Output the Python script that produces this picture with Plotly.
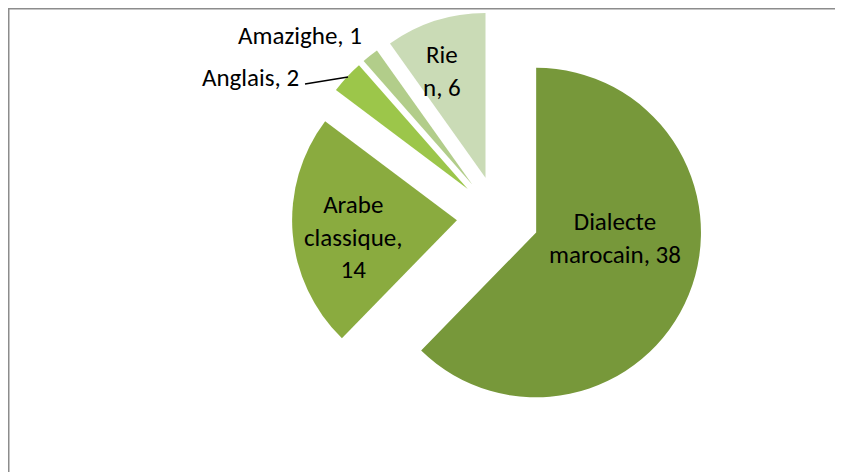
import plotly.graph_objects as go

# data
labels = ["Dialecte marocain", "Arabe classique", "Anglais", "Amazighe", "Rien"]
values = [38, 14, 2, 1, 6]
# label text as wrapped in the original chart
label_lines = ["Dialecte<br>marocain", "Arabe<br>classique,<br>", "Anglais", "Amazighe", "Rie<br>n"]
colors = ["#77983a", "#8aab3f", "#9cc64a", "#b2cd8a", "#cadbb6"]

# page body has an 8px margin, the figure starts at (8, 8) in the window
OFF = 8
W, H = 843 - OFF, 472 - OFF
FONT = "Carlito, Lato, sans-serif"


def px_x(x):
    return (x - OFF) / W


def px_y(y):
    return 1 - (y - OFF) / H


fig = go.Figure()

fig.add_trace(
    go.Pie(
        labels=labels,
        values=values,
        sort=False,
        direction="clockwise",
        rotation=0,
        pull=[0.25] * len(values),
        marker=dict(colors=colors, line=dict(width=0)),
        textinfo="none",
        hoverinfo="label+value",
        showlegend=False,
        domain=dict(x=[px_x(292), px_x(704)], y=[px_y(423), px_y(11)]),
    )
)


def label_text(i):
    sep = "" if label_lines[i].endswith("<br>") else ", "
    return f"{label_lines[i]}{sep}{values[i]}"


# label positions in window pixels (centre of text block)
label_pos = [(615, 238), (353, 237), (250, 77), (300, 36), (442, 71)]

for i, (x, y) in enumerate(label_pos):
    fig.add_annotation(
        x=px_x(x), y=px_y(y), xref="paper", yref="paper",
        text=label_text(i), showarrow=False,
        xanchor="center", yanchor="middle",
        font=dict(family=FONT, size=25, color="#000000"),
    )

# leader line for Anglais
fig.add_shape(type="line", xref="paper", yref="paper",
              x0=px_x(305), y0=px_y(84), x1=px_x(348), y1=px_y(77),
              line=dict(color="#000000", width=1.5))

# chart frame (top and left edges visible)
fig.add_shape(type="line", xref="paper", yref="paper",
              x0=0, y0=1, x1=1, y1=1,
              line=dict(color="#8c8c8c", width=3))
fig.add_shape(type="line", xref="paper", yref="paper",
              x0=0, y0=1, x1=0, y1=0,
              line=dict(color="#8c8c8c", width=3))

fig.update_layout(
    width=W,
    height=H,
    margin=dict(l=0, r=0, t=0, b=0),
    paper_bgcolor="white",
    plot_bgcolor="white",
)

fig.write_html("out.html")
